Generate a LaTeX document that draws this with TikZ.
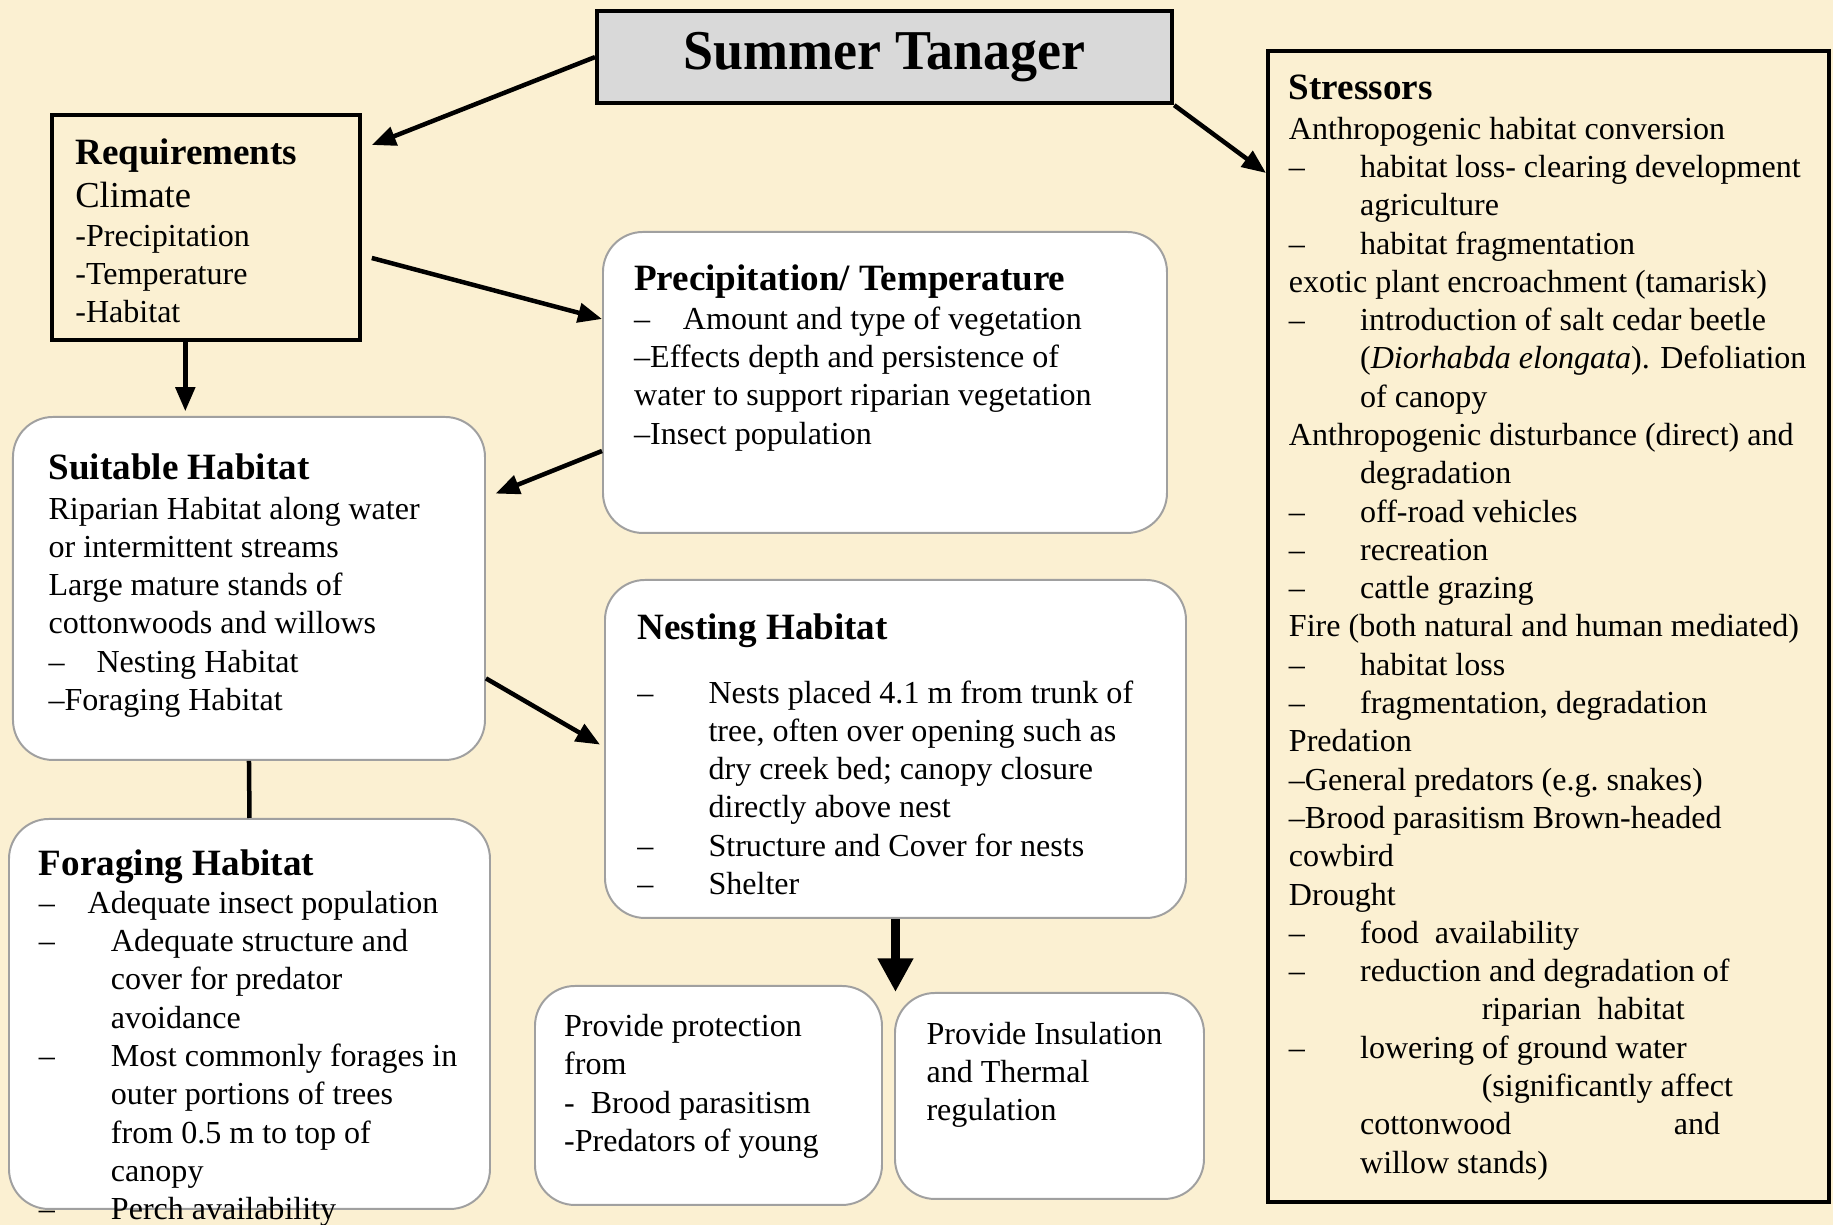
\documentclass[tikz,border=0pt]{standalone}
\usepackage{fontspec}
\setmainfont{Liberation Serif}
\usepackage{xcolor}
\usepackage{graphicx}
\usetikzlibrary{arrows.meta,positioning,calc}

\definecolor{parchment}{RGB}{251,240,210}
\definecolor{boxgray}{RGB}{160,160,160}
\definecolor{titlegray}{RGB}{217,217,217}
\newcommand{\bodysize}{\fontsize{11.4}{13.62}\selectfont}
\newcommand{\headsize}{\fontsize{13.2}{15.8}\selectfont\bfseries}
\newcommand{\dsh}[1][0.89cm]{\makebox[#1][l]{–}}

\begin{document}
\begin{tikzpicture}[
  roundbox/.style={draw=boxgray, line width=0.7pt, fill=white, rounded corners=0.5cm, inner sep=0pt, anchor=north west},
  sharpbox/.style={draw=black, line width=1.5pt, inner sep=0pt, anchor=north west},
  txt/.style={inner sep=0pt, align=left, font=\bodysize, anchor=north west},
  arr/.style={line width=1.6pt, -{Triangle[length=0.3cm,width=0.24cm]}},
  bigarr/.style={line width=3.5pt, -{Triangle[length=0.42cm,width=0.42cm]}}
]
\fill[parchment] (0,0) rectangle (22.9125,-15.3125);
\useasboundingbox (0,0) rectangle (22.9125,-15.3125);

\node[sharpbox, fill=titlegray, minimum width=7.1875cm, minimum height=1.15cm] (title) at (7.4375,-0.1125) {\raisebox{-0.06cm}{\scalebox{0.96}[1]{\fontsize{20}{24}\selectfont\bfseries Summer Tanager}}};
\node[sharpbox, minimum width=3.85cm, minimum height=2.8125cm] (req) at (0.625,-1.4125) {};
\node[sharpbox, minimum width=7.0125cm, minimum height=14.3875cm] (stress) at (15.825,-0.6125) {};
\node[roundbox, minimum width=7.05cm, minimum height=3.7625cm] (precip) at (7.525,-2.8875) {};
\node[roundbox, minimum width=5.9cm, minimum height=4.2875cm] (suit) at (0.15,-5.2) {};
\node[roundbox, minimum width=7.2625cm, minimum height=4.225cm] (nest) at (7.55,-7.2375) {};
\node[roundbox, minimum width=6.0125cm, minimum height=4.875cm] (forage) at (0.1,-10.225) {};
\node[roundbox, minimum width=4.3375cm, minimum height=2.7375cm] (protect) at (6.675,-12.3125) {};
\node[roundbox, minimum width=3.8625cm, minimum height=2.575cm] (insul) at (11.175,-12.4) {};

\node[txt, below right=0.31cm and 0.31cm of req.north west] (reqtext) {{\headsize Requirements}\\[1.8pt]
{\fontsize{13}{15.6}\selectfont Climate}\\[0.2pt]
-Precipitation\\
-Temperature\\
-Habitat};

\node[txt, below right=0.41cm and 0.395cm of precip.north west] (preciptext) {{\headsize Precipitation/ Temperature}\\[0.3pt]
\dsh[0.61cm]Amount and type of vegetation\\
–Effects depth and persistence of\\
water to support riparian vegetation\\
–Insect population};

\node[txt, below right=0.47cm and 0.45cm of suit.north west] (suittext) {{\headsize Suitable Habitat}\\[0.3pt]
Riparian Habitat along water\\
or intermittent streams\\
Large mature stands of\\
cottonwoods and willows\\
\dsh[0.6cm]Nesting Habitat\\
–Foraging Habitat};

\node[txt, below right=0.43cm and 0.41cm of nest.north west] (nesttext) {{\headsize Nesting Habitat}\\[8.9pt]
\dsh Nests placed 4.1 m from trunk of\\
\hspace*{0.89cm}tree, often over opening such as\\
\hspace*{0.89cm}dry creek bed; canopy closure\\
\hspace*{0.89cm}directly above nest\\
\dsh Structure and Cover for nests\\
\dsh Shelter};

\node[txt, below right=0.39cm and 0.38cm of forage.north west] (foragetext) {{\headsize Foraging Habitat}\\[-0.2pt]
\dsh[0.61cm]Adequate insect population\\
\dsh[0.9cm]Adequate structure and\\
\hspace*{0.9cm}cover for predator\\
\hspace*{0.9cm}avoidance\\
\dsh[0.9cm]Most commonly forages in\\
\hspace*{0.9cm}outer portions of trees\\
\hspace*{0.9cm}from 0.5 m to top of\\
\hspace*{0.9cm}canopy\\
\dsh[0.9cm]Perch availability};

\node[txt, below right=0.36cm and 0.37cm of protect.north west] (protecttext) {Provide protection\\
from\\
-\ \ Brood parasitism\\
-Predators of young};

\node[txt, below right=0.37cm and 0.4cm of insul.north west] (insultext) {Provide Insulation\\
and Thermal\\
regulation};

\node[txt, below right=0.32cm and 0.28cm of stress.north west] (stresstext) {{\headsize Stressors}\\[0.4pt]
Anthropogenic habitat conversion\\
\dsh habitat loss- clearing development\\
\hspace*{0.89cm}agriculture\\
\dsh habitat fragmentation\\
exotic plant encroachment (tamarisk)\\
\dsh introduction of salt cedar beetle\\
\hspace*{0.89cm}(\textit{Diorhabda elongata}). Defoliation\\
\hspace*{0.89cm}of canopy\\
Anthropogenic disturbance (direct) and\\
\hspace*{0.89cm}degradation\\
\dsh off-road vehicles\\
\dsh recreation\\
\dsh cattle grazing\\
Fire (both natural and human mediated)\\
\dsh habitat loss\\
\dsh fragmentation, degradation\\
Predation\\
–General predators (e.g.\ snakes)\\
–Brood parasitism Brown-headed\\
cowbird\\
Drought\\
\dsh food\ \ availability\\
\dsh reduction and degradation of\\
\hspace*{2.41cm}riparian\ \ habitat\\
\dsh lowering of ground water\\
\hspace*{2.41cm}(significantly affect\\
\hspace*{0.89cm}\makebox[3.92cm][l]{cottonwood}and\\
\hspace*{0.89cm}willow stands)};

\coordinate (reqdown) at ($(req.south)+(-0.26,0)$);

\draw[arr] (title.west) -- ($(req.north east)+(0.12,-0.4)$);
\draw[arr] (title.south east) -- ($(stress.north west)+(0,-1.55)$);
\draw[arr] ($(req.east)+(0.12,-0.38)$) -- ($(precip.north west)+(0,-1.1)$);
\draw[arr, shorten >=0.06cm] (reqdown) -- (reqdown |- suit.north);
\draw[arr] ($(precip.north west)+(0,-2.75)$) -- ($(suit.north east)+(0.12,-0.97)$);
\draw[arr] ($(suit.north east)+(0,-3.28)$) -- ($(nest.north west)+(-0.05,-2.07)$);
\draw[line width=1.6pt] (suit.south) -- (forage.north);
\draw[bigarr] (nest.south) -- (nest.south |- insul.north);
\end{tikzpicture}
\end{document}
